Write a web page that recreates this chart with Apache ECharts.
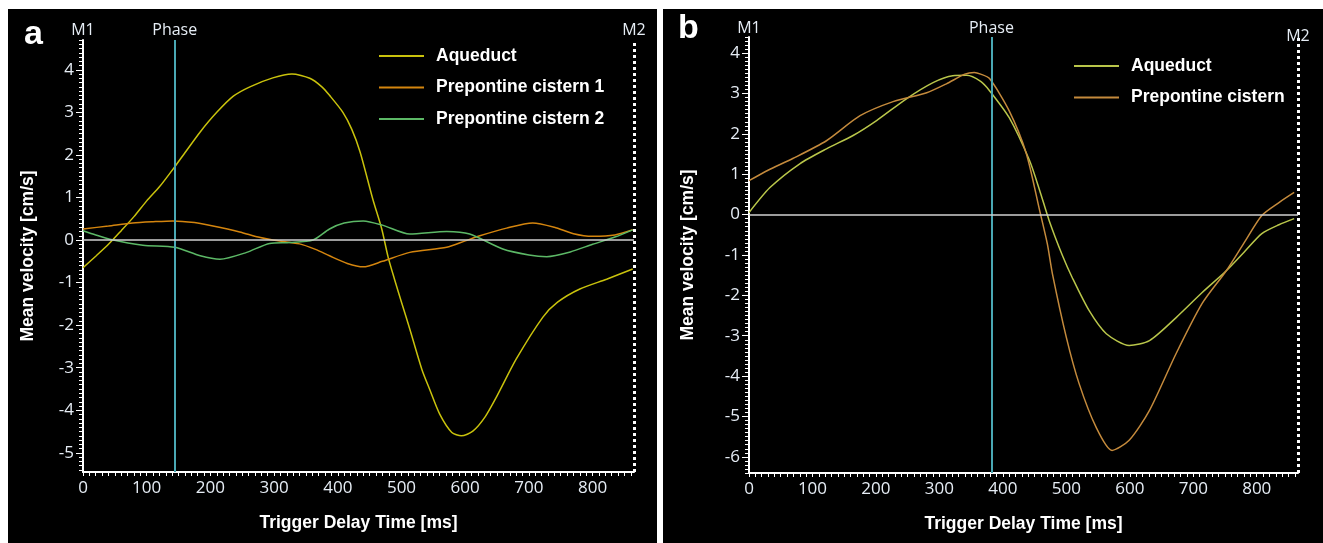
<!DOCTYPE html>
<html>
<head>
<meta charset="utf-8">
<script src="https://cdn.jsdelivr.net/npm/echarts@6/dist/echarts.min.js"></script>
<style>html,body{margin:0;padding:0;background:#fff;}#c{width:1323px;height:543px;}</style>
</head>
<body>
<div id="c"></div>
<script>
// ---------- Panel a data [ms, cm/s] ----------
var aqueductA = [[0,-0.65],[20,-0.38],[40,-0.1],[60,0.22],[80,0.55],[100,0.92],[120,1.25],[144,1.72],[160,2.05],[184,2.54],[210,3.0],[236,3.38],[262,3.6],[298,3.81],[328,3.9],[356,3.8],[375,3.6],[387,3.4],[408,3.0],[422,2.6],[435,2.07],[455,0.96],[469,0.26],[479,-0.4],[489,-0.92],[500,-1.46],[513,-2.09],[532,-3.04],[544,-3.5],[560,-4.09],[579,-4.52],[594,-4.6],[612,-4.49],[631,-4.16],[649,-3.69],[680,-2.8],[722,-1.81],[745,-1.46],[780,-1.15],[822,-0.92],[863,-0.68]];
var cistern1A = [[0,0.26],[40,0.33],[78,0.4],[110,0.43],[141,0.45],[175,0.41],[204,0.33],[246,0.19],[275,0.07],[298,0.0],[340,-0.09],[365,-0.22],[387,-0.37],[415,-0.55],[440,-0.63],[470,-0.5],[513,-0.29],[571,-0.17],[600,-0.02],[623,0.1],[665,0.28],[706,0.4],[740,0.3],[770,0.15],[800,0.09],[835,0.12],[863,0.24]];
var cistern2A = [[0,0.22],[20,0.12],[42,0.02],[94,-0.12],[144,-0.17],[184,-0.37],[215,-0.45],[257,-0.29],[293,-0.08],[325,-0.06],[361,0.0],[387,0.26],[410,0.4],[440,0.45],[470,0.35],[513,0.14],[571,0.2],[607,0.14],[659,-0.21],[700,-0.35],[728,-0.39],[765,-0.28],[800,-0.1],[835,0.07],[863,0.24]];
// ---------- Panel b data ----------
var aqueductB = [[0,0.05],[33,0.67],[80,1.26],[122,1.63],[164,1.96],[201,2.33],[248,2.87],[290,3.27],[321,3.44],[343,3.45],[365,3.3],[379,3.07],[410,2.4],[442,1.34],[458,0.6],[473,-0.15],[494,-1.02],[509,-1.55],[536,-2.38],[563,-2.95],[599,-3.24],[631,-3.12],[673,-2.55],[714,-1.93],[752,-1.39],[780,-0.93],[808,-0.47],[835,-0.25],[859,-0.1]];
var cisternB = [[0,0.84],[30,1.1],[69,1.39],[122,1.83],[175,2.45],[227,2.8],[280,3.02],[311,3.24],[340,3.48],[355,3.52],[365,3.48],[379,3.37],[410,2.57],[437,1.51],[458,0.1],[470,-0.72],[478,-1.46],[500,-3.04],[520,-4.18],[547,-5.27],[572,-5.84],[599,-5.59],[631,-4.85],[673,-3.44],[714,-2.2],[752,-1.39],[780,-0.7],[808,-0.02],[835,0.3],[859,0.55]];

var phaseA = 144, phaseB = 382;
var xTicks = [0,100,200,300,400,500,600,700,800];
var yTicksA = [-5,-4,-3,-2,-1,0,1,2,3,4];
var yTicksB = [-6,-5,-4,-3,-2,-1,0,1,2,3,4];
var xMax = 865;

function range(a, b, s) { var r = []; for (var v = a; v <= b + 1e-9; v += s) r.push(Math.round(v * 100) / 100); return r; }

var lblColor = '#e6edf5';
var lblFont = 'Open Sans';
var titleStyle = { color: '#fff', fontWeight: 'bold', fontSize: 17.5, fontFamily: 'Liberation Sans' };

function xAxisDef(grid) {
  return {
    type: 'value', gridIndex: grid, min: 0, max: xMax,
    name: 'Trigger Delay Time [ms]', nameLocation: 'middle', nameGap: 42,
    nameTextStyle: titleStyle,
    axisLine: { show: true, onZero: false, lineStyle: { color: '#fff', width: 2 } },
    axisTick: { show: true, length: 4, customValues: range(0, 860, 10), lineStyle: { color: '#fff', width: 1 } },
    axisLabel: { color: lblColor, fontSize: 17, fontFamily: lblFont, margin: 8, customValues: xTicks },
    splitLine: { show: false }
  };
}
function yAxisDefs(grid, min, max, ticks, gap) {
  return [{
    type: 'value', gridIndex: grid, min: min, max: max, position: 'left',
    name: 'Mean velocity [cm/s]', nameLocation: 'middle', nameGap: gap, nameRotate: 90,
    nameTextStyle: titleStyle,
    axisLine: { show: true, onZero: false, lineStyle: { color: '#fff', width: 2 } },
    axisTick: { show: true, length: 4, customValues: range(Math.ceil(min * 10) / 10, max, 0.1), lineStyle: { color: '#fff', width: 1 } },
    axisLabel: { color: lblColor, fontSize: 17, fontFamily: lblFont, margin: 9, customValues: ticks },
    splitLine: { show: false }
  }, {
    type: 'value', gridIndex: grid, min: min, max: max, position: 'left',
    axisLine: { show: false },
    axisTick: { show: true, length: 7, customValues: ticks, lineStyle: { color: '#fff', width: 1 } },
    axisLabel: { show: false },
    splitLine: { show: false }
  }];
}

function markLines(phase, dTop, dM2) {
  function lab(t, d) { return { show: true, position: 'end', color: lblColor, fontSize: 16, fontFamily: lblFont, distance: d, formatter: t }; }
  return {
    silent: true, symbol: 'none', animation: false,
    data: [
      { xAxis: 0, label: lab('M1', dTop), lineStyle: { color: 'rgba(0,0,0,0)', width: 0 } },
      { xAxis: phase, label: lab('Phase', dTop), lineStyle: { color: '#4aa8b4', width: 2, type: 'solid' } },
      { xAxis: xMax, label: lab('M2', dM2), lineStyle: { color: '#fff', width: 3, type: [3, 3] } },
      { yAxis: 0, label: { show: false }, lineStyle: { color: '#d0d0d0', width: 1.5, type: 'solid' } }
    ]
  };
}

function lineSeries(name, data, color, xi, yi, ml) {
  var s = { type: 'line', name: name, data: data, xAxisIndex: xi, yAxisIndex: yi, symbol: 'none',
    smooth: 0.25,
    lineStyle: { color: color, width: 1.5 }, itemStyle: { color: color }, z: 3 };
  if (ml) s.markLine = ml;
  return s;
}

var cA1 = '#c9c20c', cA2 = '#d4850e', cA3 = '#5cb866';
var cB1 = '#b9c64a', cB2 = '#c48a3c';

var legendText = { color: '#fff', fontWeight: 'bold', fontSize: 17.5, fontFamily: 'Liberation Sans', padding: [0, 0, 0, 7] };
var hiddenSym = { color: 'rgba(0,0,0,0)', borderColor: 'rgba(0,0,0,0)', borderWidth: 0 };

var chart = echarts.init(document.getElementById('c'));
chart.setOption({
  backgroundColor: '#ffffff',
  animation: false,
  graphic: [
    { type: 'rect', shape: { x: 8, y: 9, width: 649, height: 540 }, style: { fill: '#000' }, z: -10 },
    { type: 'rect', shape: { x: 663, y: 9, width: 665, height: 540 }, style: { fill: '#000' }, z: -10 },
    { type: 'text', left: 24, top: 18, style: { text: 'a', fill: '#fff', font: 'bold 34px "Liberation Sans"' } },
    { type: 'text', left: 678, top: 12, style: { text: 'b', fill: '#fff', font: 'bold 34px "Liberation Sans"' } }
  ],
  grid: [
    { left: 83, top: 40, width: 551, height: 432 },
    { left: 749, top: 37, width: 549, height: 436 }
  ],
  xAxis: [xAxisDef(0), xAxisDef(1)],
  yAxis: yAxisDefs(0, -5.45, 4.7, yTicksA, 46).concat(yAxisDefs(1, -6.4, 4.4, yTicksB, 52)),
  legend: [
    { orient: 'vertical', left: 378, top: 47, padding: 0, itemWidth: 45, itemHeight: 14, itemGap: 13.5,
      textStyle: legendText, itemStyle: hiddenSym,
      data: [
        { name: 'Aqueduct', lineStyle: { color: cA1 } },
        { name: 'Prepontine cistern 1' },
        { name: 'Prepontine cistern 2' }
      ], selectedMode: false },
    { orient: 'vertical', left: 1073, top: 57, padding: 0, itemWidth: 45, itemHeight: 14, itemGap: 13.5,
      textStyle: legendText, itemStyle: hiddenSym,
      data: [
        { name: 'Aqueduct', lineStyle: { color: cB1 } },
        { name: 'Prepontine cistern' }
      ], selectedMode: false }
  ],
  series: [
    lineSeries('Aqueduct', aqueductA, cA1, 0, 0, markLines(phaseA, 2, 2)),
    lineSeries('Prepontine cistern 1', cistern1A, cA2, 0, 0),
    lineSeries('Prepontine cistern 2', cistern2A, cA3, 0, 0),
    lineSeries('Aqueduct', aqueductB, cB1, 1, 2, markLines(phaseB, 1, -7)),
    lineSeries('Prepontine cistern', cisternB, cB2, 1, 2)
  ]
});
</script>
</body>
</html>
